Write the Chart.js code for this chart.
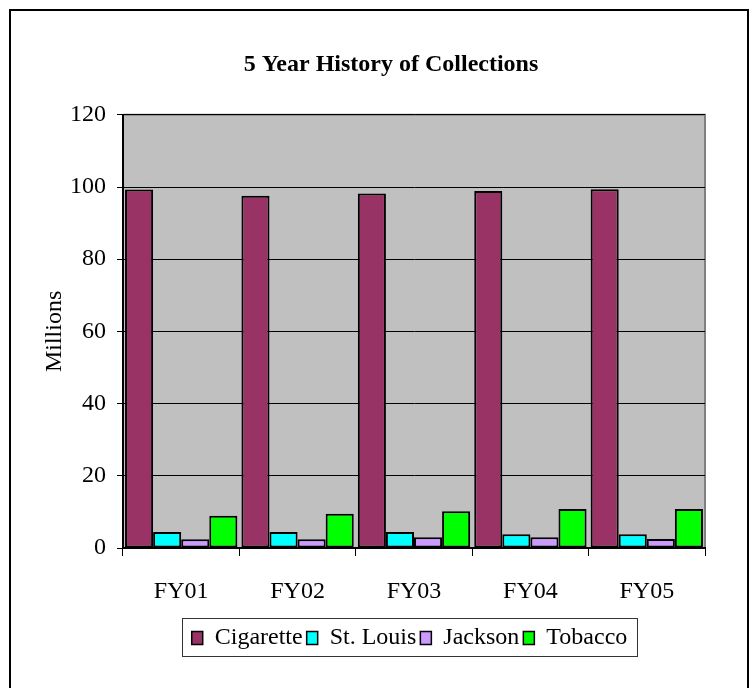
<!DOCTYPE html>
<html>
<head>
<meta charset="utf-8">
<script src="https://cdn.jsdelivr.net/npm/chart.js@4/dist/chart.umd.min.js"></script>
<style>
  html, body { margin: 0; padding: 0; background: #fff; }
  #wrap { width: 752px; height: 688px; position: relative; }
</style>
</head>
<body>
<div id="wrap"><canvas id="grafica" width="752" height="688"></canvas></div>
<script>
// ==============================
// Data
// ==============================
const years = ["FY01", "FY02", "FY03", "FY04", "FY05"];
const cigarette = [99.3, 97.6, 98.2, 98.9, 99.4];
const stLouis = [4.4, 4.4, 4.4, 3.8, 3.8];
const jackson = [2.4, 2.4, 3.0, 3.0, 2.5];
const tobacco = [8.9, 9.5, 10.2, 10.8, 10.8];
const yTicks = [0, 20, 40, 60, 80, 100, 120];

const serif = "'Liberation Serif', 'Times New Roman', serif";

// ==============================
// Plugins: plot background, outer frame, legend box
// ==============================
const frame = {
  id: "frame",
  afterLayout(chart) {
    // title and legend are centred on the whole frame, not the plot
    chart.titleBlock.left = 36;
    chart.titleBlock.right = 746;
    chart.legend.left = 182;
    chart.legend.right = 637;
  },
  beforeDraw(chart) {
    const c = chart.ctx, a = chart.chartArea;
    c.save();
    c.fillStyle = "#c0c0c0";
    c.fillRect(a.left, a.top, a.right - a.left, a.bottom - a.top);
    c.strokeStyle = "#808080";
    c.lineWidth = 2;
    c.beginPath();
    c.moveTo(a.left, a.top);
    c.lineTo(a.right, a.top);
    c.lineTo(a.right, a.bottom);
    c.stroke();
    c.restore();
  },
  afterDraw(chart) {
    const c = chart.ctx;
    c.save();
    c.strokeStyle = "#000";
    c.lineWidth = 2;
    c.beginPath();
    c.moveTo(10, 700);
    c.lineTo(10, 10);
    c.lineTo(748, 10);
    c.lineTo(748, 700);
    c.stroke();
    // legend border
    c.lineWidth = 1;
    c.strokeStyle = "#333";
    c.strokeRect(182.5, 618.5, 455, 38);
    c.restore();
  }
};

const ctx = document.getElementById("grafica").getContext("2d");
const grafica = new Chart(ctx, {
  type: "bar",
  data: {
    labels: years,
    datasets: [
      { label: "Cigarette", data: cigarette, backgroundColor: "#993366" },
      { label: "St. Louis", data: stLouis, backgroundColor: "#00ffff" },
      { label: "Jackson", data: jackson, backgroundColor: "#cc99ff" },
      { label: "Tobacco", data: tobacco, backgroundColor: "#00ff00" }
    ].map(d => Object.assign(d, {
      borderColor: "#000",
      borderWidth: 2,
      borderSkipped: false,
      barPercentage: 1,
      categoryPercentage: 0.965
    }))
  },
  options: {
    responsive: false,
    animation: false,
    layout: { padding: { left: 0, right: 47, top: 50, bottom: 28 } },
    plugins: {
      title: {
        display: true,
        text: "5 Year History of Collections",
        color: "#000",
        font: { family: serif, size: 24, weight: "bold" },
        padding: { top: 0, bottom: 36 }
      },
      legend: {
        position: "bottom",
        labels: {
          color: "#000",
          font: { family: serif, size: 24 },
          boxWidth: 11,
          boxHeight: 13,
          padding: 4,
          generateLabels(chart) {
            return chart.data.datasets.map((d, i) => ({
              text: d.label,
              fillStyle: d.backgroundColor,
              strokeStyle: "#000",
              lineWidth: 1.5,
              datasetIndex: i
            }));
          }
        }
      },
      tooltip: { enabled: false }
    },
    scales: {
      x: {
        afterFit(scale) { scale.height = 74; },
        grid: { drawOnChartArea: false, color: "#000", tickLength: 8, offset: true },
        border: { color: "#000", width: 2 },
        ticks: { color: "#000", font: { family: serif, size: 24 }, padding: 21 }
      },
      y: {
        min: 0,
        max: 120,
        afterFit(scale) { scale.width = 123; },
        afterBuildTicks(scale) { scale.ticks = yTicks.map(v => ({ value: v })); },
        grid: { color: "#000", tickLength: 6 },
        border: { color: "#000", width: 2 },
        ticks: { color: "#000", font: { family: serif, size: 24 }, padding: 11 },
        title: {
          display: true,
          text: "Millions",
          color: "#000",
          font: { family: serif, size: 24 },
          padding: { top: 40, bottom: 0 }
        }
      }
    }
  },
  plugins: [frame]
});
</script>
</body>
</html>
